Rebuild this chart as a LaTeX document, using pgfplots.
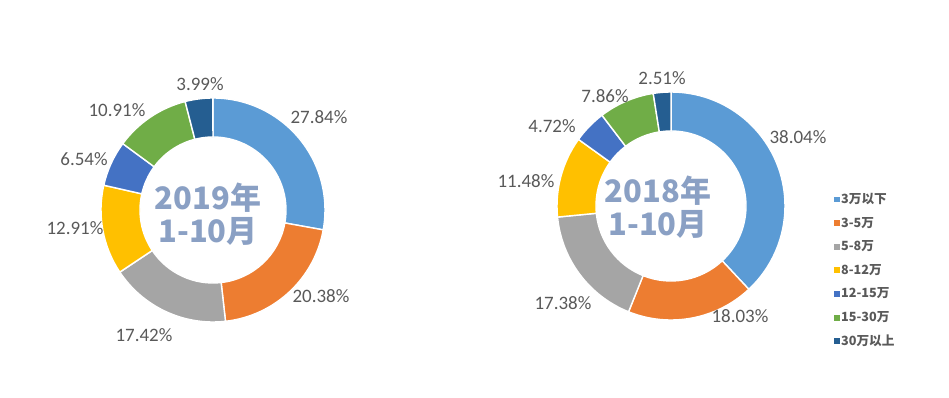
\documentclass[border=0pt]{standalone}
\usepackage{pgfplots}
\usepackage{pgfplotstable}
\pgfplotsset{compat=1.18}
\usepackage{fontspec}
\setmainfont{Carlito}
\newfontfamily\cjk{Noto Sans CJK SC}

\definecolor{c0}{HTML}{5B9BD5}
\definecolor{c1}{HTML}{ED7D31}
\definecolor{c2}{HTML}{A5A5A5}
\definecolor{c3}{HTML}{FFC000}
\definecolor{c4}{HTML}{4472C4}
\definecolor{c5}{HTML}{70AD47}
\definecolor{c6}{HTML}{255E91}
\definecolor{lgray}{HTML}{595959}
\definecolor{ctext}{RGB}{138,160,196}

\pgfplotstableread{
idx v2019 v2018
0 27.84 38.04
1 20.38 18.03
2 17.42 17.38
3 12.91 11.48
4 6.54 4.72
5 10.91 7.86
6 3.99 2.51
}\shares

% #1 column, #2 cx, #3 cy, #4 outer radius, #5 inner radius (axis units)
\newcommand\donut[5]{%
  \pgfplotsextra{%
    \gdef\curang{90}%
    \foreach \i in {0,...,6}{%
      \pgfplotstablegetelem{\i}{#1}\of\shares
      \pgfmathsetmacro\endang{\curang-3.6*\pgfplotsretval}%
      \pgfmathsetlengthmacro\Ro{#4*0.25mm}%
      \pgfmathsetlengthmacro\Ri{#5*0.25mm}%
      \filldraw[fill=c\i, draw=white, line width=1pt, line join=round]
        (axis cs:{#2+#4*cos(\curang)},{#3+#4*sin(\curang)})
        arc[start angle=\curang, end angle=\endang, radius=\Ro]
        -- (axis cs:{#2+#5*cos(\endang)},{#3+#5*sin(\endang)})
        arc[start angle=\endang, end angle=\curang, radius=\Ri]
        -- cycle;
      \xdef\curang{\endang}%
    }%
  }%
}

\begin{document}
\begin{tikzpicture}
\begin{axis}[
  x=0.25mm, y=0.25mm,
  xmin=0, xmax=949, ymin=0, ymax=398,
  hide axis, clip=false,
  legend cell align=left,
  legend style={at={(axis cs:834,206)}, anchor=north west, draw=none, fill=none,
    font=\cjk\bfseries\fontsize{9}{10}\selectfont, text=lgray,
    row sep=6.8pt, inner sep=0pt,
    nodes={inner sep=1pt, text height=7pt, text depth=1pt}},
]
\path (axis cs:0,0) rectangle (axis cs:949,398);

\donut{v2019}{213}{188}{112}{73}
\donut{v2018}{671}{192}{114}{75}

\addlegendimage{legend image code/.code={\fill[c0] (0pt,-1.75pt) rectangle (3.5pt,1.75pt);}}
\addlegendentry{3万以下}
\addlegendimage{legend image code/.code={\fill[c1] (0pt,-1.75pt) rectangle (3.5pt,1.75pt);}}
\addlegendentry{3-5万}
\addlegendimage{legend image code/.code={\fill[c2] (0pt,-1.75pt) rectangle (3.5pt,1.75pt);}}
\addlegendentry{5-8万}
\addlegendimage{legend image code/.code={\fill[c3] (0pt,-1.75pt) rectangle (3.5pt,1.75pt);}}
\addlegendentry{8-12万}
\addlegendimage{legend image code/.code={\fill[c4] (0pt,-1.75pt) rectangle (3.5pt,1.75pt);}}
\addlegendentry{12-15万}
\addlegendimage{legend image code/.code={\fill[c5] (0pt,-1.75pt) rectangle (3.5pt,1.75pt);}}
\addlegendentry{15-30万}
\addlegendimage{legend image code/.code={\fill[c6] (0pt,-1.75pt) rectangle (3.5pt,1.75pt);}}
\addlegendentry{30万以上}

% centre titles
\node[font=\cjk\bfseries\fontsize{22}{23.4}\selectfont, text=ctext, align=center]
  at (axis cs:208,184) {2019年\\1-10月};
\node[font=\cjk\bfseries\fontsize{22}{23.4}\selectfont, text=ctext, align=center]
  at (axis cs:658,191) {2018年\\1-10月};

% percentage labels, 2019
\begin{scope}[every node/.style={font=\fontsize{13.5}{16}\selectfont, text=lgray, inner sep=0pt}]
\node at (axis cs:319,281) {27.84\%};
\node at (axis cs:321,102) {20.38\%};
\node at (axis cs:144,63) {17.42\%};
\node at (axis cs:75,170) {12.91\%};
\node at (axis cs:84,239) {6.54\%};
\node at (axis cs:117,288) {10.91\%};
\node at (axis cs:200,314) {3.99\%};
% 2018
\node at (axis cs:798,261) {38.04\%};
\node at (axis cs:740,82) {18.03\%};
\node at (axis cs:563,95) {17.38\%};
\node at (axis cs:526,217) {11.48\%};
\node at (axis cs:552,272) {4.72\%};
\node at (axis cs:605,302) {7.86\%};
\node at (axis cs:662,320) {2.51\%};
\end{scope}
\end{axis}
\end{tikzpicture}
\end{document}
